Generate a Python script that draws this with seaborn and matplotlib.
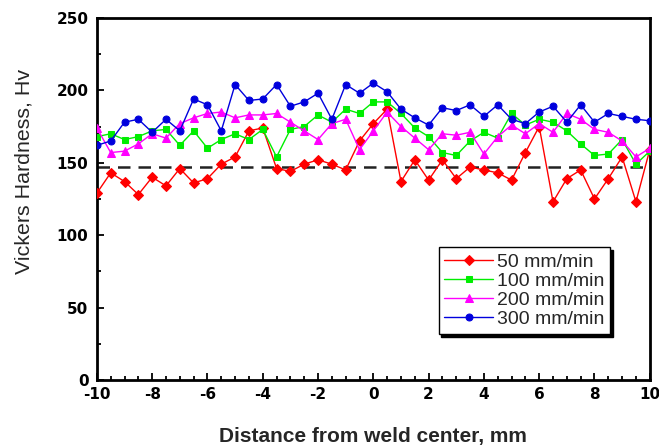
import numpy as np
import pandas as pd
import matplotlib
matplotlib.use("Agg")
from matplotlib import pyplot as plt
from matplotlib.ticker import MultipleLocator
import seaborn as sns

# distance from weld center (mm), one reading every 0.5 mm
distance = [-10, -9.5, -9, -8.5, -8, -7.5, -7, -6.5, -6, -5.5, -5, -4.5, -4, -3.5,
            -3, -2.5, -2, -1.5, -1, -0.5, 0, 0.5, 1, 1.5, 2, 2.5, 3, 3.5, 4, 4.5,
            5, 5.5, 6, 6.5, 7, 7.5, 8, 8.5, 9, 9.5, 10]

hv_50 = [129, 143, 137, 128, 140, 134, 146, 136, 139, 149, 154, 172, 174, 146,
         144, 149, 152, 149, 145, 165, 177, 187, 137, 152, 138, 152, 139, 147, 145, 143,
         138, 157, 175, 123, 139, 145, 125, 139, 154, 123, 159]

hv_100 = [168, 170, 166, 168, 172, 173, 162, 172, 160, 166, 170, 166, 173, 154,
          173, 175, 183, 178, 187, 184, 192, 192, 184, 174, 168, 157, 155, 165, 171, 167,
          184, 176, 180, 178, 172, 163, 155, 156, 166, 149, 158]

hv_200 = [174, 157, 158, 163, 170, 167, 177, 181, 184, 185, 181, 183, 183, 184,
          178, 172, 166, 177, 180, 159, 172, 185, 175, 167, 159, 170, 169, 171, 156, 168,
          176, 170, 177, 171, 184, 180, 173, 171, 165, 154, 160]

hv_300 = [162, 165, 178, 180, 171, 180, 172, 194, 190, 172, 204, 193, 194, 204,
          189, 192, 198, 180, 204, 198, 205, 199, 187, 181, 176, 188, 186, 190, 182, 190,
          180, 177, 185, 189, 178, 190, 178, 184, 182, 180, 179]

base_metal_hv = 147

series = [
    ("50 mm/min", hv_50, "#ff0000", "D", 5),
    ("100 mm/min", hv_100, "#00ee00", "s", 4.5),
    ("200 mm/min", hv_200, "#ff00ff", "^", 6),
    ("300 mm/min", hv_300, "#0000dd", "o", 5),
]

sns.set_style("ticks")
plt.rcParams['font.family'] = ['Liberation Sans', 'DejaVu Sans']
plt.rcParams['axes.unicode_minus'] = False

fig = plt.figure(figsize=(6.59, 4.48), dpi=100)
ax = fig.add_axes([0.147, 0.152, 0.839, 0.808])

ax.axhline(base_metal_hv, color='#222222', linewidth=1.8, dashes=(5, 3.2), zorder=1)

for label, values, color, marker, ms in series:
    df = pd.DataFrame({"x": distance, "y": values})
    sns.lineplot(x="x", y="y", data=df, color=color, marker=marker, markersize=ms,
                 markeredgecolor=color, linewidth=1.0, label=label, ax=ax, zorder=3)

ax.set_xlim(-10, 10)
ax.set_ylim(0, 250)
ax.xaxis.set_major_locator(MultipleLocator(2))
ax.xaxis.set_minor_locator(MultipleLocator(0.5))
ax.yaxis.set_major_locator(MultipleLocator(50))
ax.yaxis.set_minor_locator(MultipleLocator(25))
ax.tick_params(which='both', direction='in', width=1.3, colors='black')
ax.tick_params(axis='x', pad=5)
ax.tick_params(axis='y', pad=6)
ax.tick_params(which='major', length=5)
ax.tick_params(which='minor', length=3)
for lab in ax.get_xticklabels() + ax.get_yticklabels():
    lab.set_fontfamily('DejaVu Sans')
    lab.set_fontweight('bold')
    lab.set_fontsize(11)

for s in ax.spines.values():
    s.set_linewidth(2)
    s.set_color('black')

ax.set_xlabel('Distance from weld center, mm', fontsize=15, fontweight='bold')
ax.xaxis.set_label_coords(0.5, -0.13)
ax.set_ylabel('Vickers Hardness, Hv', fontsize=15.4)
ax.yaxis.set_label_coords(-0.114, 0.575)

leg = ax.legend(loc='upper left', bbox_to_anchor=(0.618, 0.367), borderaxespad=0,
                fancybox=False, shadow={'color': 'black', 'alpha': 1}, edgecolor='black',
                framealpha=1, fontsize=14, handlelength=2.5, borderpad=0.3,
                labelspacing=0.08, handletextpad=0.2)
leg.get_frame().set_linewidth(1)

plt.savefig('out.png', dpi=100)
